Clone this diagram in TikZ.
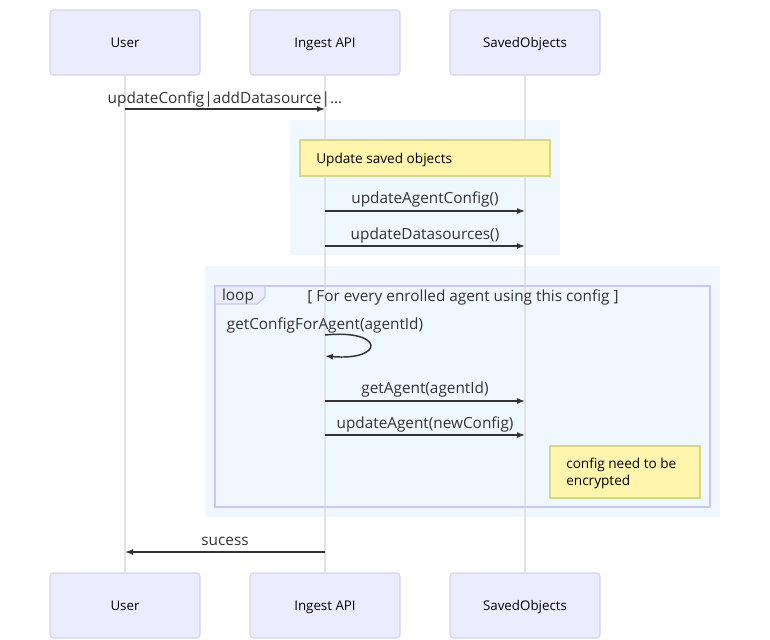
\documentclass[tikz,border=0pt]{standalone}
\usepackage{fontspec}
\setmainfont{Open Sans}
\usetikzlibrary{arrows.meta}
\definecolor{actorfill}{HTML}{ECECFF}
\definecolor{actorline}{HTML}{D2D2F5}
\definecolor{lifeline}{HTML}{E2E2E2}
\definecolor{rectfill}{HTML}{F0F8FF}
\definecolor{notefill}{HTML}{FFF5AD}
\definecolor{noteline}{HTML}{D8D68A}
\definecolor{loopline}{HTML}{C8C8F5}
\definecolor{msgline}{HTML}{333333}
\tikzset{
  actor/.style={draw=actorline, fill=actorfill, rounded corners=2.5pt, line width=0.8pt,
    minimum width=112.5pt, minimum height=48.75pt, font=\fontsize{10}{12}\selectfont, inner sep=0pt},
  actorlabel/.style={font=\fontsize{10}{12}\selectfont, inner sep=0pt, text height=7.5pt, text depth=2pt},
  lifel/.style={draw=lifeline, line width=1pt},
  msg/.style={draw=msgline, line width=1.1pt, -{Latex[length=6pt,width=4.5pt]}},
  msgtext/.style={font=\fontsize{11.5}{13}\selectfont, text=msgline, inner sep=0pt},
  note/.style={draw=noteline, fill=notefill, line width=0.9pt},
  notetext/.style={font=\fontsize{10.2}{12.5}\selectfont, inner sep=0pt, align=left, anchor=north west},
  bgrect/.style={fill=rectfill},
  frame/.style={draw=loopline, line width=1.1pt},
}
\begin{document}
\begin{tikzpicture}[x=0.75pt, y=-0.75pt]
\useasboundingbox (0,0) rectangle (770,639);
% highlighted regions
\path[bgrect] (290,120) rectangle (560,255);
\path[bgrect] (205,266) rectangle (720,517);
% participants
\node[actor] (userT) at (125,42.5) {};
\node[actor] (apiT) at (325,42.5) {};
\node[actor] (soT) at (525,42.5) {};
\node[actor] (userB) at (125,605.5) {};
\node[actor] (apiB) at (325,605.5) {};
\node[actor] (soB) at (525,605.5) {};
\node[actorlabel] (userTl) at ([yshift=-1pt]userT.center) {User};
\node[actorlabel] (apiTl) at ([yshift=-1pt]apiT.center) {Ingest API};
\node[actorlabel] (soTl) at ([yshift=-1pt]soT.center) {SavedObjects};
\node[actorlabel] (userBl) at ([yshift=-1pt]userB.center) {User};
\node[actorlabel] (apiBl) at ([yshift=-1pt]apiB.center) {Ingest API};
\node[actorlabel] (soBl) at ([yshift=-1pt]soB.center) {SavedObjects};
% lifelines
\draw[lifel] (userT.south) -- (userB.north);
\draw[lifel] (apiT.south) -- (apiB.north);
\draw[lifel] (soT.south) -- (soB.north);
% lifeline anchors for messages
\coordinate (u1) at (125,109); \coordinate (a1) at (325,109);
\coordinate (a2) at (325,211); \coordinate (s2) at (525,211);
\coordinate (a3) at (325,246); \coordinate (s3) at (525,246);
\coordinate (a4) at (325,335); \coordinate (a4e) at (325,356);
\coordinate (a5) at (325,401); \coordinate (s5) at (525,401);
\coordinate (a6) at (325,435); \coordinate (s6) at (525,435);
\coordinate (a7) at (325,552); \coordinate (u7) at (125,552);
% messages
\draw[msg] (u1) -- (a1);
\node[msgtext] (m1) at (225,99.5) {updateConfig|addDatasource|...};
% note: update saved objects
\node[note, minimum width=187.5pt, minimum height=27pt, inner sep=0pt] (n1) at (425,158) {};
\node[notetext, anchor=west] (n1t) at (316,160) {Update saved objects};
\draw[msg] (a2) -- (s2);
\node[msgtext] (m2) at (425,199.5) {updateAgentConfig()};
\draw[msg] (a3) -- (s3);
\node[msgtext] (m3) at (425,235.5) {updateDatasources()};
% loop frame
\draw[frame] (215,286) rectangle (710,507);
\draw[frame, fill=actorfill] (215,286) -- (265,286) -- (265,297) -- (257,304) -- (215,304) -- cycle;
\node[msgtext, anchor=center] (looplbl) at (238,297) {loop};
\node[msgtext] (cond) at (463,297.5) {[ For every enrolled agent using this config ]};
\node[msgtext] (m4) at (325,325.5) {getConfigForAgent(agentId)};
\draw[msg] (a4) .. controls (385,329) and (385,361) .. (a4e);
\draw[msg] (a5) -- (s5);
\node[msgtext] (m5) at (425,389.5) {getAgent(agentId)};
\draw[msg] (a6) -- (s6);
\node[msgtext] (m6) at (425,424.5) {updateAgent(newConfig)};
\node[note, minimum width=112.5pt, minimum height=39pt, inner sep=0pt] (n2) at (625,472) {};
\node[notetext] (n2t) at (566,458) {config need to be\\encrypted};
% reply
\draw[msg] (a7) -- (u7);
\node[msgtext] (m7) at (225,541.5) {sucess};
\end{tikzpicture}
\end{document}
